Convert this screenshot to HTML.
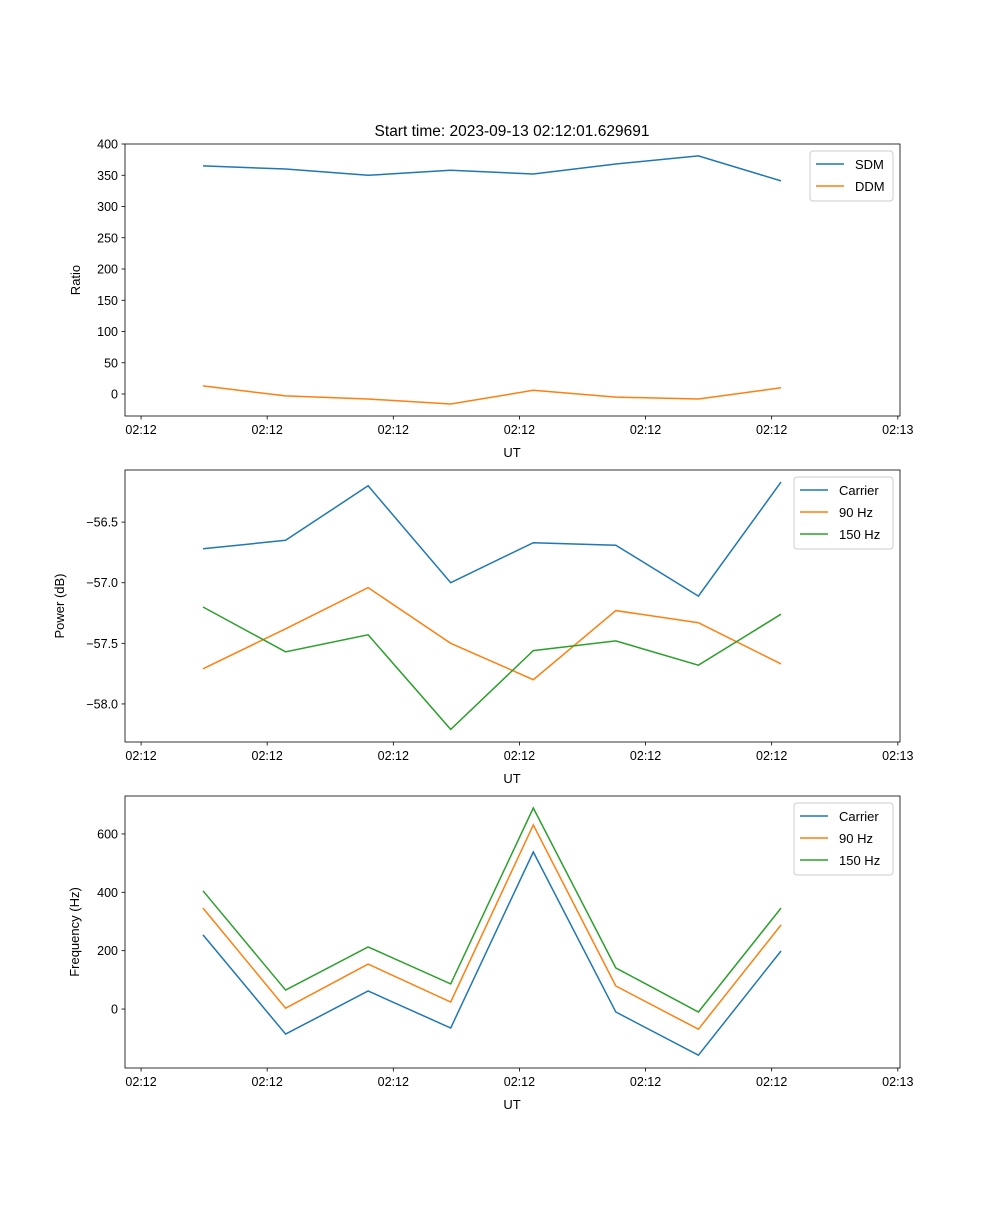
<!DOCTYPE html>
<html><head><meta charset="utf-8"><style>
body{margin:0;background:#fff}
svg{font-family:"Liberation Sans","DejaVu Sans",sans-serif}
</style></head><body>
<svg id="fig" width="1000" height="1200" xmlns="http://www.w3.org/2000/svg">
<text x="512" y="136" font-size="15.5" text-anchor="middle">Start time: 2023-09-13 02:12:01.629691</text>
</svg>
<script>
const xIndex = [0,1,2,3,4,5,6,7];
const xTickIdx = [-0.75,0.777,2.305,3.832,5.36,6.887,8.415];
const xTickLabels = ["02:12","02:12","02:12","02:12","02:12","02:12","02:13"];
const sdm = [365,360,350,358,352,368,381,341];
const ddm = [13,-3,-8,-16,6,-5,-8,10];
const powCarrier = [-56.72,-56.65,-56.20,-57.0,-56.67,-56.69,-57.11,-56.17];
const pow90 = [-57.71,-57.38,-57.04,-57.5,-57.80,-57.23,-57.33,-57.67];
const pow150 = [-57.20,-57.57,-57.43,-58.21,-57.56,-57.48,-57.68,-57.26];
const freqCarrier = [254,-86,62,-65,538,-10,-158,199];
const freq90 = [346,3,154,24,631,79,-69,288];
const freq150 = [405,65,213,86,689,141,-10,346];
const ratioTicks = [0,50,100,150,200,250,300,350,400];
const powTicks = [-58.0,-57.5,-57.0,-56.5];
const freqTicks = [0,200,400,600];

const NS="http://www.w3.org/2000/svg";
const svg=document.getElementById('fig');
function el(tag,attrs,parent){const e=document.createElementNS(NS,tag);for(const k in attrs)e.setAttribute(k,attrs[k]);(parent||svg).appendChild(e);return e;}
const L=125,R=900;
const xs=i=>203+i*82.57;
const C={b:'#1f77b4',o:'#ff7f0e',g:'#2ca02c'};

function panel(name,top,bot,ymin,ymax,yTicks,fmt,ylabel,series,legTop,legW){
  const g=el('g',{});
  
  
  const ys=v=>bot-(v-ymin)/(ymax-ymin)*(bot-top);
  series.forEach(s=>{
    const p=el('polyline',{points:s.data.map((v,i)=>xs(xIndex[i]).toFixed(1)+','+ys(v).toFixed(1)).join(' '),fill:'none',stroke:s.c,'stroke-width':1.5},g);
    
    
  });
  el('rect',{x:L,y:top,width:R-L,height:bot-top,fill:'none',stroke:'#000','stroke-width':0.8},g);
  xTickIdx.forEach((t,k)=>{const x=xs(t);
    el('line',{x1:x,x2:x,y1:bot,y2:bot+3.5,stroke:'#000','stroke-width':0.8},g);
    const tx=el('text',{x:x,y:bot+18,'font-size':12.5,'text-anchor':'middle'},g);tx.textContent=xTickLabels[k];
    
    
  });
  yTicks.forEach(t=>{const y=ys(t);
    el('line',{x1:L,x2:L-3.5,y1:y,y2:y,stroke:'#000','stroke-width':0.8},g);
    const tx=el('text',{x:L-7,y:y+4.5,'font-size':12.5,'text-anchor':'end'},g);tx.textContent=fmt(t);
    
    
  });
  const xl=el('text',{x:512,y:bot+41,'font-size':13,'text-anchor':'middle'},g);xl.textContent='UT';
  
  
  const yx=name==='ratio'?80:name==='power'?64:79;
  const yl=el('text',{x:yx,y:(top+bot)/2,'font-size':13,'text-anchor':'middle',transform:`rotate(-90 ${yx} ${(top+bot)/2})`},g);yl.textContent=ylabel;
  
  
  const lx=R-7-legW, h=series.length*22+6;
  const lg=el('g',{},g);
  
  
  el('rect',{x:lx,y:legTop,width:legW,height:h,rx:3,fill:'#fff',stroke:'#ccc','stroke-width':1},lg);
  series.forEach((s,k)=>{const y=legTop+13+k*22;
    el('line',{x1:lx+6,x2:lx+34,y1:y,y2:y,stroke:s.c,'stroke-width':1.5},lg);
    const t=el('text',{x:lx+45,y:y+5,'font-size':13},lg);t.textContent=s.label;
    
    
  });
}
panel('ratio',144,416,-35.2,400,ratioTicks,v=>String(v),'Ratio',
 [{key:'sdm',label:'SDM',data:sdm,c:C.b},{key:'ddm',label:'DDM',data:ddm,c:C.o}],151,83);
panel('power',470,742,-58.314,-56.07,powTicks,v=>'\u2212'+Math.abs(v).toFixed(1),'Power (dB)',
 [{key:'carrier',label:'Carrier',data:powCarrier,c:C.b},{key:'90hz',label:'90 Hz',data:pow90,c:C.o},{key:'150hz',label:'150 Hz',data:pow150,c:C.g}],477,99);
panel('frequency',796,1068,-202,730,freqTicks,v=>String(v),'Frequency (Hz)',
 [{key:'carrier',label:'Carrier',data:freqCarrier,c:C.b},{key:'90hz',label:'90 Hz',data:freq90,c:C.o},{key:'150hz',label:'150 Hz',data:freq150,c:C.g}],803,99);
</script>
</body></html>
